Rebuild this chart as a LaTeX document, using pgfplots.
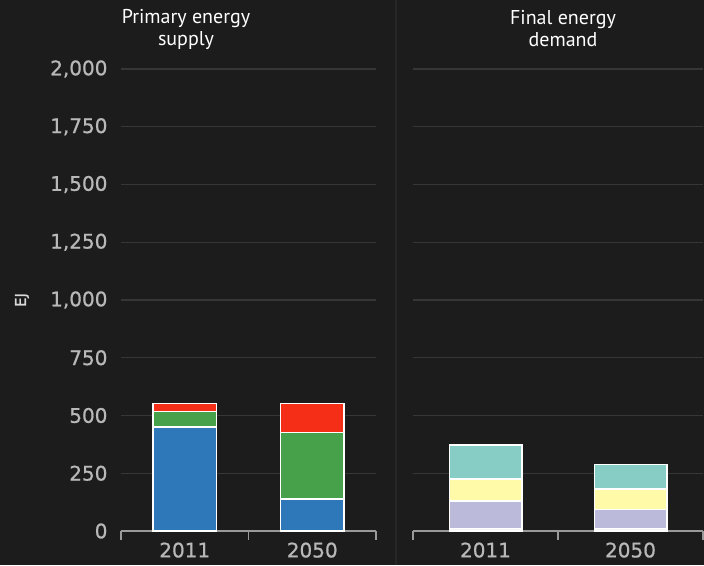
\documentclass[border=0pt]{standalone}
\usepackage{pgfplots}
\pgfplotsset{compat=1.18}
\usepackage{fontspec}
\setmainfont{DejaVu Sans}
\newfontfamily\tickfont[FakeBold=0.8]{DejaVu Sans}
\newfontfamily\titlefont{PT Sans}
\definecolor{bg}{HTML}{1C1C1C}
\definecolor{divc}{HTML}{262626}
\definecolor{gridc}{HTML}{363636}
\definecolor{axisc}{HTML}{9A9A9A}
\definecolor{tickc}{HTML}{B8B8B8}
\definecolor{cblue}{HTML}{2E77B9}
\definecolor{cgreen}{HTML}{46A14A}
\definecolor{cred}{HTML}{F52F17}
\definecolor{cteal}{HTML}{88CCC6}
\definecolor{cyellow}{HTML}{FFFAA8}
\definecolor{cpurple}{HTML}{BCBADB}
\definecolor{cwhite}{HTML}{F5F5F5}
\pgfplotsset{
  common/.style={
    scale only axis, height=462pt,
    ymin=0, ymax=2000, xmin=-0.5, xmax=1.5,
    ybar stacked, bar width=0.5,
    ytick={0,250,...,2000},
    ymajorgrids, grid style={color=gridc, line width=1.2pt},
    axis x line*=bottom, axis y line*=left,
    y axis line style={draw=none}, ytick style={draw=none},
    x axis line style={color=axisc, line width=1.3pt, -},
    xtick={0,1}, xticklabels={2011,2050},
    major x tick style={draw=none},
    minor xtick={-0.5,0.5,1.5},
    minor x tick style={color=axisc, line width=1.3pt},
    minor tick length=9pt, major tick length=0pt,
    tick align=outside,
    ticklabel style={font=\tickfont\fontsize{20}{20}\selectfont, text=tickc},
    xticklabel style={yshift=-8pt},
    yticklabel style={xshift=-10pt},
    /pgf/number format/assume math mode=true,
    /pgf/number format/1000 sep={,},
    every axis plot/.append style={draw=white, line width=1.5pt},
    clip=false,
  }
}
\begin{document}
\begin{tikzpicture}[x=1pt,y=1pt]
\fill[bg] (0,0) rectangle (704,565);
\draw[color=divc, line width=2pt] (396,0) -- (396,565);

\begin{axis}[common, at={(121pt,34pt)}, anchor=south west, width=255pt]
\addplot[fill=cblue] coordinates {(0,451) (1,139)};
\addplot[fill=cgreen] coordinates {(0,67) (1,287)};
\addplot[fill=cred] coordinates {(0,35) (1,127)};
\end{axis}

\begin{axis}[common, at={(413pt,34pt)}, anchor=south west, width=290pt, yticklabels={}]
\addplot[fill=cwhite] coordinates {(0,10) (1,10)};
\addplot[fill=cpurple] coordinates {(0,119) (1,84)};
\addplot[fill=cyellow] coordinates {(0,96) (1,88)};
\addplot[fill=cteal] coordinates {(0,147) (1,105)};
\end{axis}

\node[text=white, font=\titlefont\fontsize{20}{22}\selectfont, align=center] at (186,536) {Primary energy\\supply};
\node[text=white, font=\titlefont\fontsize{20}{22}\selectfont, align=center] at (563,536) {Final energy\\demand};
\node[rotate=90, text=white!85!black, font=\tickfont\fontsize{15}{15}\selectfont] at (22,265) {EJ};
\pgfresetboundingbox
\useasboundingbox (0,0) rectangle (704,565);
\end{tikzpicture}
\end{document}
